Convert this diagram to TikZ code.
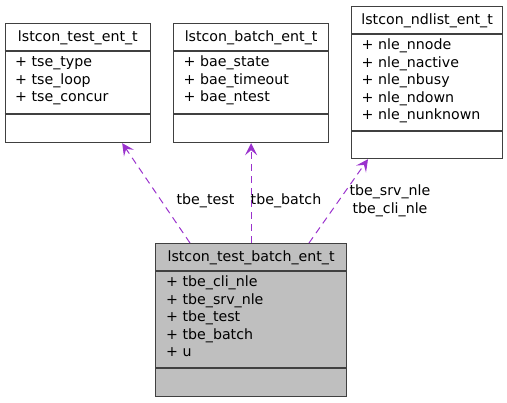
\documentclass[tikz,border=0pt]{standalone}
\usepackage{fontspec}
\setmainfont{DejaVu Sans}
\usetikzlibrary{arrows.meta, positioning, calc}
\definecolor{relcol}{HTML}{9A32CD}
\definecolor{mainfill}{HTML}{BFBFBF}

\begin{document}
\begin{tikzpicture}[
      x=1pt, y=-1pt,
      cls/.style={draw=black!75, line width=1.2pt, fill=white,
                  anchor=north west, inner sep=0pt},
      frame/.style={draw=black!75, line width=1.2pt},
      title/.style={font=\fontsize{14.2}{17}\selectfont,
                    anchor=base, inner sep=0pt},
      attr/.style={font=\fontsize{14.2}{17}\selectfont,
                   anchor=base west, inner sep=0pt},
      lbl/.style={font=\fontsize{14.2}{17.5}\selectfont,
                  align=center, inner sep=0pt},
      rel/.style={draw=relcol, line width=1pt, dash pattern=on 7pt off 5pt,
                  -{Stealth[length=12pt, width=12pt, inset=5pt]}}
    ]
    \useasboundingbox (0,0) rectangle (507,403);
    % classes
    \node[cls, minimum width=145.5pt, minimum height=119pt] (test) at (4.5,23) {};
    \node[cls, minimum width=155pt, minimum height=119pt] (batch) at (173,23) {};
    \node[cls, minimum width=151pt, minimum height=152pt] (ndlist) at (351,6) {};
    \node[cls, fill=mainfill, minimum width=191pt, minimum height=153pt]
          (main) at (155,243) {};
    % titles
    \node[title] (testt) at ($(test.north)+(0,18.5)$) {lstcon\_test\_ent\_t};
    \node[title] (batcht) at ($(batch.north)+(0,18.5)$) {lstcon\_batch\_ent\_t};
    \node[title] (ndlistt) at ($(ndlist.north)+(0,18.5)$) {lstcon\_ndlist\_ent\_t};
    \node[title] (maint) at ($(main.north)+(0,18.5)$) {lstcon\_test\_batch\_ent\_t};
    % compartments
    \foreach \c/\d in {test/91, batch/91, ndlist/125, main/125} {
      \draw[frame] ($(\c.north west)+(0,28)$) -- ($(\c.north east)+(0,28)$);
      \draw[frame] ($(\c.north west)+(0,\d)$) -- ($(\c.north east)+(0,\d)$);
    }
    % attributes
    \foreach \a [count=\i] in {tse\_type, tse\_loop, tse\_concur}
      \node[attr] (testa\i) at ($(test.north west)+(10.5,26.5+17.5*\i)$) {+ \a};
    \foreach \a [count=\i] in {bae\_state, bae\_timeout, bae\_ntest}
      \node[attr] (batcha\i) at ($(batch.north west)+(10.5,26.5+17.5*\i)$) {+ \a};
    \foreach \a [count=\i] in {nle\_nnode, nle\_nactive, nle\_nbusy, nle\_ndown, nle\_nunknown}
      \node[attr] (ndlista\i) at ($(ndlist.north west)+(10.5,26.5+17.5*\i)$) {+ \a};
    \foreach \a [count=\i] in {tbe\_cli\_nle, tbe\_srv\_nle, tbe\_test, tbe\_batch, u}
      \node[attr] (maina\i) at ($(main.north west)+(11,26.5+17.5*\i)$) {+ \a};
    % relations
    \draw[rel] ([xshift=35pt]main.north west) -- ([xshift=-29pt]test.south east);
    \draw[rel] (main.north) -- (batch.south);
    \draw[rel] ([xshift=154pt]main.north west) -- ([xshift=17pt]ndlist.south west);
    \node[lbl, anchor=base] (ltest) at (205.5,205) {tbe\_test};
    \node[lbl, anchor=base] (lbatch) at (286,205) {tbe\_batch};
    \node[lbl] (lndlist) at (390,201) {tbe\_srv\_nle\\tbe\_cli\_nle};
  \end{tikzpicture}
\end{document}
